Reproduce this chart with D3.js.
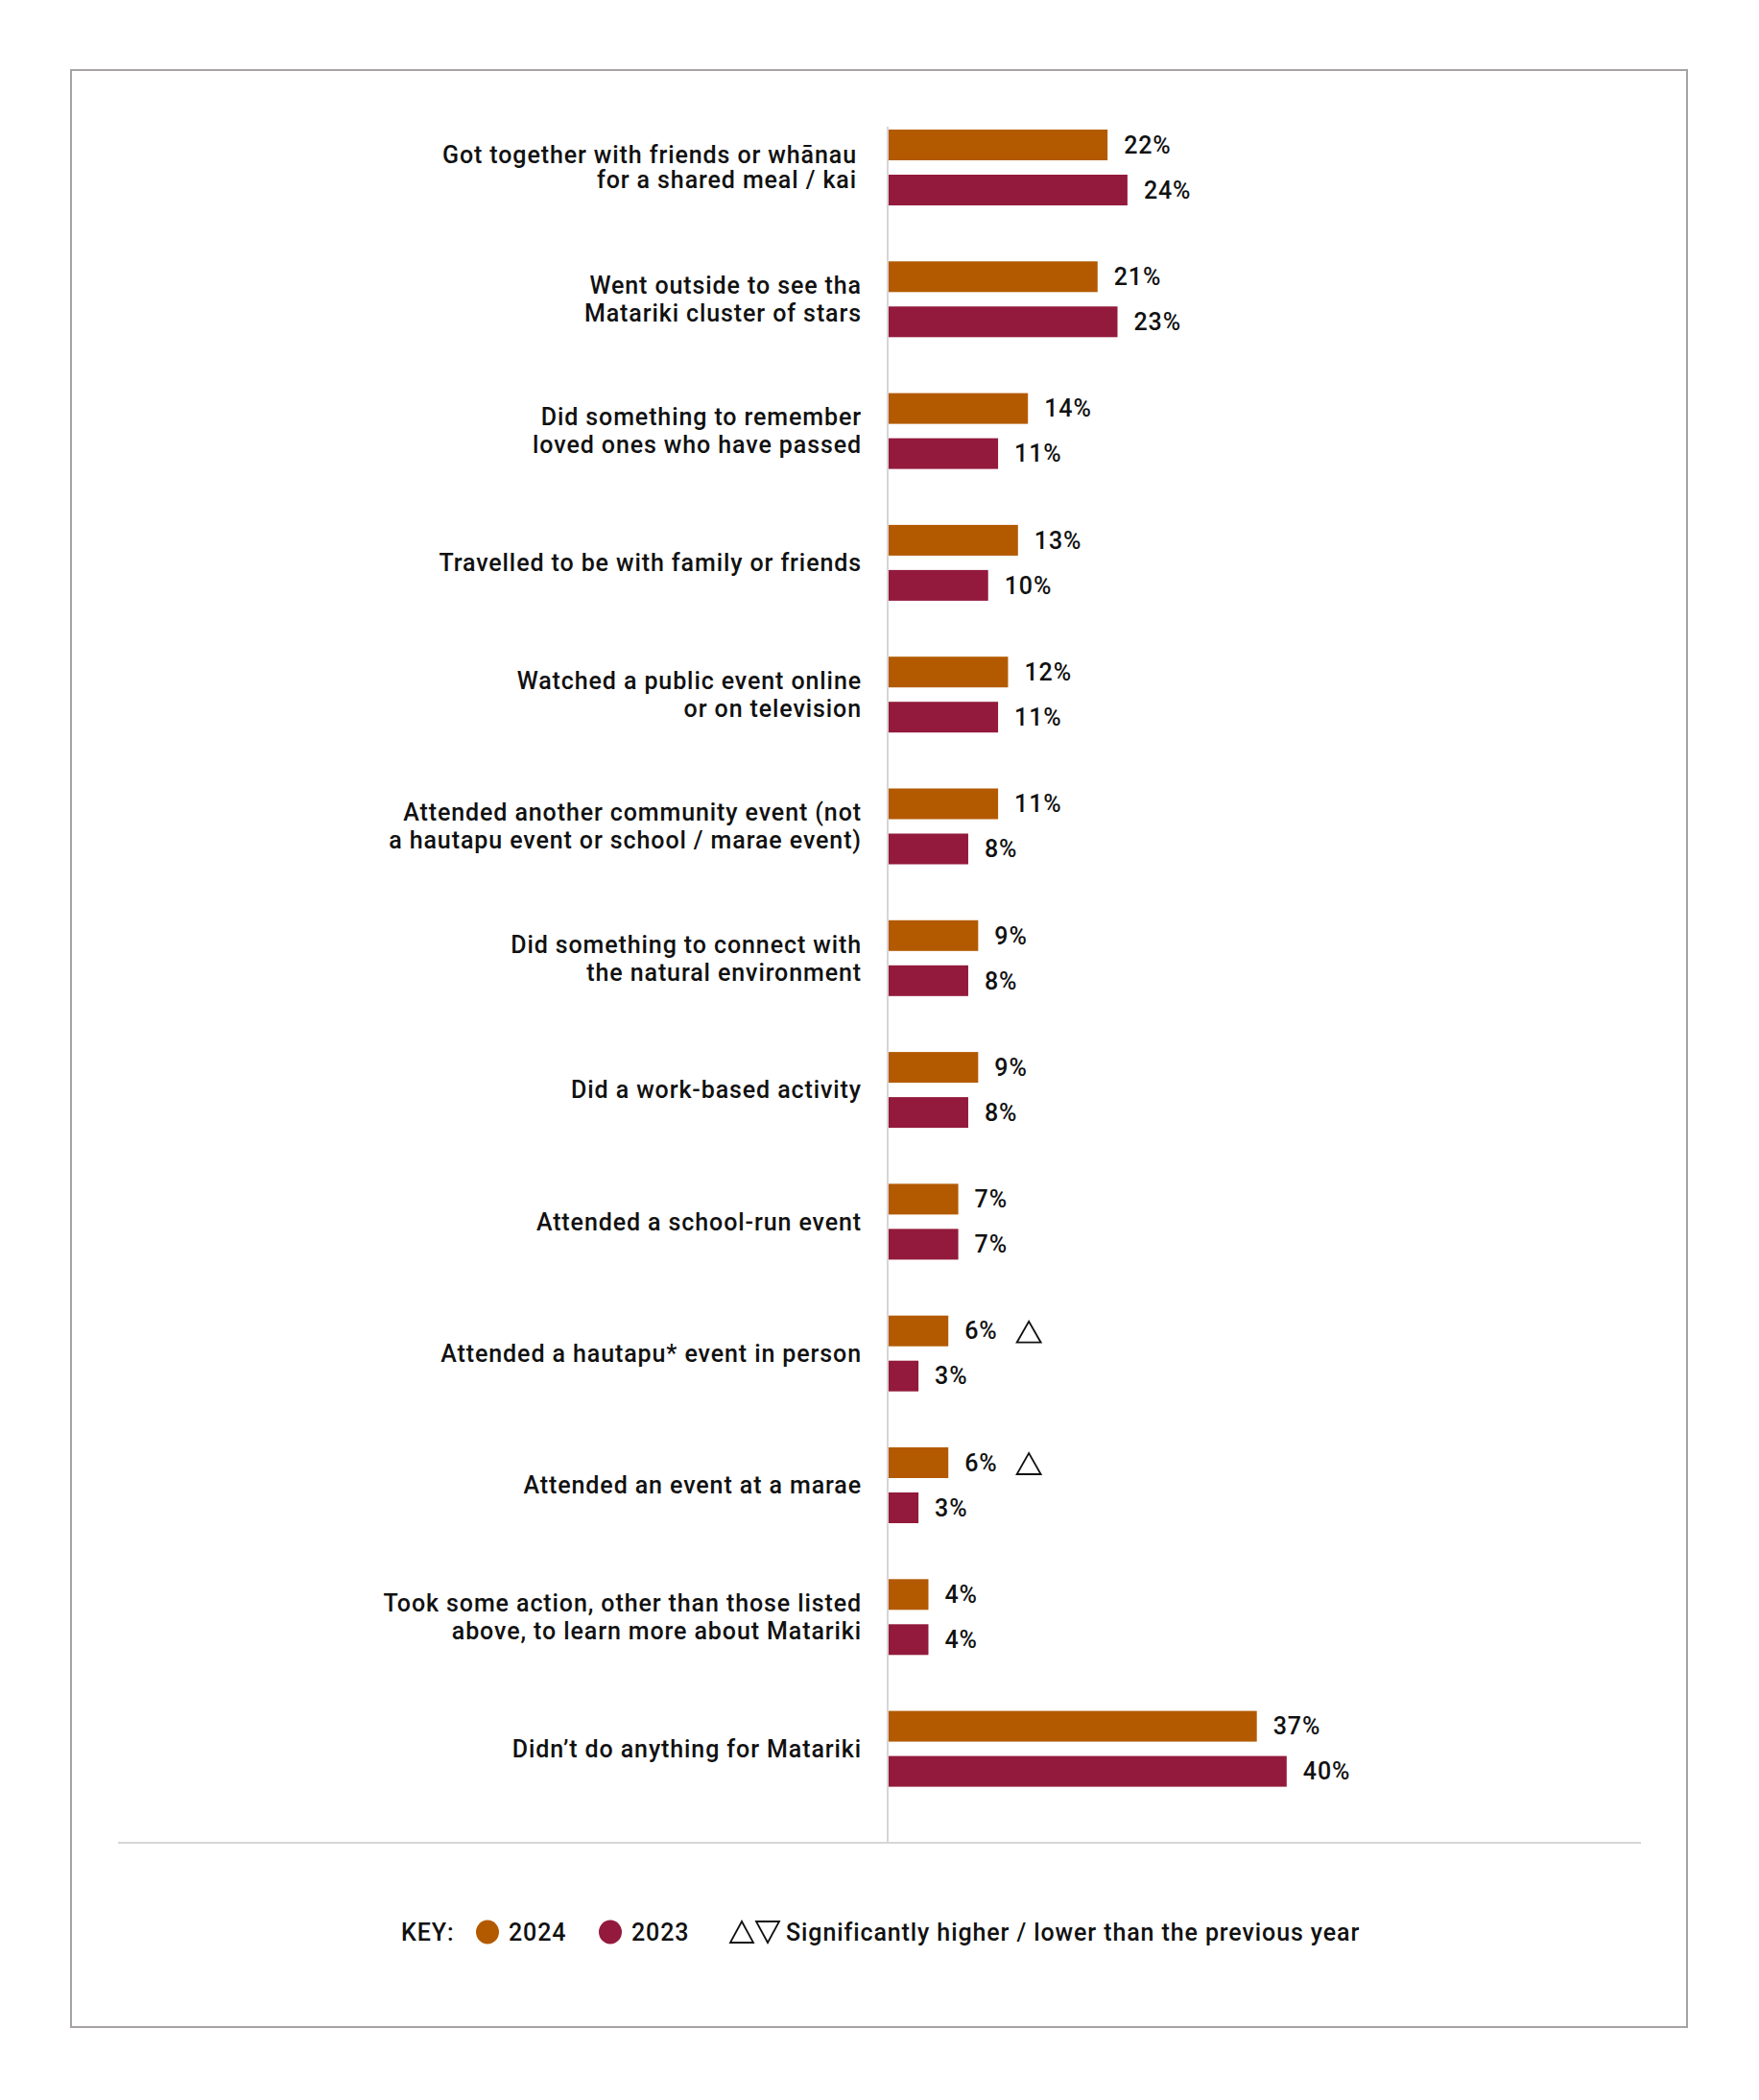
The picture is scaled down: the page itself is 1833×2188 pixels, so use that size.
<!DOCTYPE html>
<html><head><meta charset="utf-8">
<script src="https://cdn.jsdelivr.net/npm/d3@7"></script>
<style>
html,body{margin:0;padding:0;background:#fff;}
svg text{font-family:Roboto, "Noto Sans", sans-serif;fill:#111;font-size:25px;font-weight:500;letter-spacing:0.9px;}
</style></head>
<body>
<svg id="chart" width="1833" height="2188"></svg>
<script>
const categories = [
  ["Got together with friends or whānau","for a shared meal / kai"],
  ["Went outside to see tha","Matariki cluster of stars"],
  ["Did something to remember","loved ones who have passed"],
  ["Travelled to be with family or friends"],
  ["Watched a public event online","or on television"],
  ["Attended another community event  (not","a hautapu event or school / marae event)"],
  ["Did something to connect with","the natural environment"],
  ["Did a work-based activity"],
  ["Attended a school-run event"],
  ["Attended a hautapu* event in person"],
  ["Attended an event at a marae"],
  ["Took some action, other than those listed","above, to learn more about Matariki"],
  ["Didn’t do anything for Matariki"]
];
const series = ["2024","2023"];
const values2024 = [22,21,14,13,12,11,9,9,7,6,6,4,37];
const values2023 = [24,23,11,10,11,8,8,8,7,3,3,4,40];
const sig2024 = ["","","","","","","","","","up","up","",""];
const colors = {"2024":"#B35A00","2023":"#931A3C"};
const legendLabels = ["2024","2023"];
const legendSigText = "Significantly higher / lower than the previous year";

const svg = d3.select("#chart");
const ids = categories.map((c,i)=>i);

svg.append("rect").attr("x",74).attr("y",73).attr("width",1684).attr("height",2039)
  .attr("fill","none").attr("stroke","#A7A2A3").attr("stroke-width",2);

const x = d3.scaleLinear().domain([0,100]).range([925,1962]);
const y = d3.scaleBand().domain(ids).range([106,106+13*137.3]).padding(0);
const ySub = d3.scaleBand().domain(series).range([29,108]).paddingInner(0.319);

svg.append("line").attr("x1",x(0)).attr("x2",x(0)).attr("y1",132).attr("y2",1920)
  .attr("stroke","#D6D6D6").attr("stroke-width",2);
svg.append("line").attr("x1",123).attr("x2",1710).attr("y1",1920).attr("y2",1920)
  .attr("stroke","#D6D6D6").attr("stroke-width",2);

const rows = ids.map(i=>({i, cat:categories[i], v:{"2024":values2024[i],"2023":values2023[i]}, sig:sig2024[i]}));

const g = svg.selectAll("g.row").data(rows).enter().append("g").attr("class","row")
  .attr("transform",d=>`translate(0,${y(d.i)})`);

g.append("text")
  .attr("text-anchor","end")
  .each(function(d){
    const t = d3.select(this);
    const lh = d.i===0 ? 26 : 29;
    const lx = d.i===0 ? 893 : 898;
    const c = y.bandwidth()/2;
    const n = d.cat.length;
    d.cat.forEach((line,k)=>{
      t.append("tspan").attr("x",lx)
        .attr("y", c + (k-(n-1)/2)*lh)
        .attr("dy","0.35em").text(line);
    });
  });

series.forEach(s=>{
  g.append("rect")
    .attr("x",x(0)+1)
    .attr("y",ySub(s))
    .attr("width",d=>x(d.v[s])-x(0))
    .attr("height",ySub.bandwidth())
    .attr("fill",colors[s]);
  g.append("text")
    .attr("class","val"+s)
    .attr("x",d=>x(d.v[s])+18)
    .attr("y",ySub(s)+ySub.bandwidth()/2)
    .attr("dy","0.35em")
    .text(d=>d.v[s]+"%");
});

g.filter(d=>d.sig==="up").each(function(d){
  const gg = d3.select(this);
  const tl = gg.select("text.val2024").node().getComputedTextLength();
  const left = x(d.v["2024"])+18+tl+20;
  const cy = ySub("2024")+ySub.bandwidth()/2+1;
  gg.append("path")
    .attr("d",`M${left},${cy+11}L${left+25},${cy+11}L${left+12.5},${cy-11}Z`)
    .attr("fill","none").attr("stroke","#111").attr("stroke-width",1.8);
});

const ly = 2013;
const leg = svg.append("g");
leg.append("text").attr("x",418).attr("y",ly).attr("dy","0.35em").text("KEY:");
const legX = [508,636];
legendLabels.forEach((s,k)=>{
  leg.append("ellipse").attr("cx",legX[k]).attr("cy",ly).attr("rx",12).attr("ry",12.5).attr("fill",colors[s]);
  leg.append("text").attr("x",legX[k]+22).attr("y",ly).attr("dy","0.35em").text(s);
});
leg.append("path").attr("d",`M761,${ly+11}L785,${ly+11}L773,${ly-11}Z`).attr("fill","none").attr("stroke","#111").attr("stroke-width",1.8);
leg.append("path").attr("d",`M788,${ly-11}L812,${ly-11}L800,${ly+11}Z`).attr("fill","none").attr("stroke","#111").attr("stroke-width",1.8);
leg.append("text").attr("x",819).attr("y",ly).attr("dy","0.35em").text(legendSigText);
</script>
</body></html>
